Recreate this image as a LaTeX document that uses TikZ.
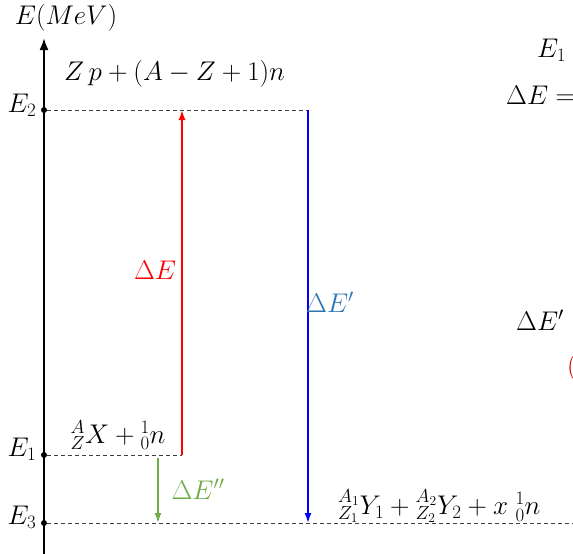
\documentclass[tikz,border=0pt]{standalone}
\usepackage{fix-cm}
\usetikzlibrary{arrows.meta}
\definecolor{myred}{RGB}{255,0,0}
\definecolor{myblue}{RGB}{0,0,255}
\definecolor{labblue}{RGB}{46,117,182}
\definecolor{mygreen}{RGB}{112,173,71}
\definecolor{darkred}{RGB}{192,0,0}
\definecolor{dashgray}{RGB}{64,64,64}
\tikzset{
  lvl/.style={draw=dashgray, line width=0.9pt, dash pattern=on 4pt off 3pt},
  dotnode/.style={circle, fill=black, inner sep=0pt, minimum size=6pt},
  txt/.style={inner sep=0pt, font=\fontsize{27}{32}\selectfont},
  arr/.style={line width=1.6pt, -{Latex[length=10pt,width=7pt]}},
}
\begin{document}
\begin{tikzpicture}[x=1pt,y=-1pt]
\useasboundingbox (0,0) rectangle (573,554);
\clip (0,0) rectangle (573,554);
% axis
\coordinate (ax0) at (44,554);
\coordinate (axtop) at (44,38);
\draw[line width=2pt, -{Latex[length=12pt,width=9pt]}] (ax0) -- (axtop);
\node[txt] (ylab) at (66,18) {$E(MeV)$};
% levels
\node[dotnode] (d2) at (44,110) {};
\node[dotnode] (d1) at (44,455) {};
\node[dotnode] (d3) at (44,523) {};
\coordinate (l2end) at (308,110);
\coordinate (l1end) at (182,455);
\coordinate (l3end) at (573,523);
\draw[lvl] (d2) -- (l2end);
\draw[lvl] (d1) -- (l1end);
\draw[lvl] (d3) -- (l3end);
\node[txt] (e2) at (22,105) {$E_2$};
\node[txt] (e1) at (22,449) {$E_1$};
\node[txt] (e3) at (22,517) {$E_3$};
% state labels
\node[txt, anchor=west] (s2) at (64,74) {$Z\,p+(A-Z+1)n$};
\node[txt] (s1) at (118,435) {${}^{A}_{Z}X+{}^{1}_{0}n$};
\node[txt, anchor=west] (s3) at (338,506) {${}^{A_1}_{Z_1}Y_1+{}^{A_2}_{Z_2}Y_2+x\;{}^{1}_{0}n$};
% arrows
\coordinate (rb) at (182,455);
\coordinate (rt) at (182,110);
\draw[arr, draw=myred, fill=myred] (rb) -- (rt);
\node[txt, text=myred] (dE) at (155,270) {$\Delta E$};
\coordinate (bt) at (308,110);
\coordinate (bb) at (308,523);
\draw[arr, draw=myblue, fill=myblue] (bt) -- (bb);
\node[txt, text=labblue] (dEp) at (330,302) {$\Delta E'$};
\coordinate (gt) at (158,458);
\coordinate (gb) at (158,523);
\draw[arr, draw=mygreen, fill=mygreen] (gt) -- (gb);
\node[txt, text=mygreen] (dEpp) at (198,489) {$\Delta E''$};
% clipped text at the right edge
\node[txt, anchor=west] (r1) at (537,50) {$E_1$};
\node[txt, anchor=west] (r2) at (506,95) {$\Delta E=$};
\node[txt, anchor=west] (r3) at (516,320) {$\Delta E'$};
\node[txt, anchor=west, text=darkred] (r4) at (567,368) {$($};
\end{tikzpicture}
\end{document}
